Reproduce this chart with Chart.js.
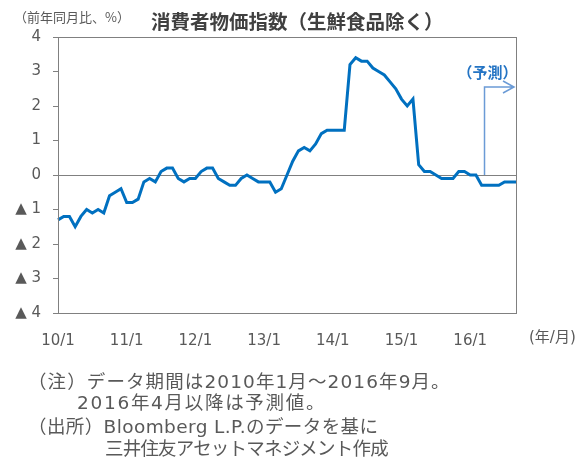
<!DOCTYPE html>
<html>
<head>
<meta charset="utf-8">
<script src="https://cdn.jsdelivr.net/npm/chart.js@4"></script>
<style>
  body { margin: 0; background: #fff; }
  #wrap { position: relative; width: 587px; height: 467px; font-family: "DejaVu Sans", "Noto Sans CJK JP", sans-serif; color: #595959; }
  canvas { position: absolute; left: 0; top: 0; }
  .txt { position: absolute; white-space: nowrap; }
  #title { left: 151px; top: 6px; font-size: 19.5px; font-weight: bold; color: #404040; font-family: "Noto Sans CJK JP", sans-serif; }
  #unit { left: 14px; top: 7px; font-size: 13px; font-family: "Noto Sans CJK JP", sans-serif; }
  #xunit { left: 529px; top: 325px; font-size: 15px; }
  .note { font-size: 18.5px; line-height: 22px; }
</style>
</head>
<body>
<div id="wrap">
  <canvas id="chart" width="587" height="467"></canvas>
  <div class="txt" id="unit">（前年同月比、%）</div>
  <div class="txt" id="title">消費者物価指数（生鮮食品除く）</div>
  <div class="txt" id="xunit">(年/月)</div>
  <div class="txt note" style="left:28px; top:371px; letter-spacing:1.1px;">（注）データ期間は2010年1月～2016年9月。</div>
  <div class="txt note" style="left:77px; top:392px; letter-spacing:1.7px;">2016年4月以降は予測値。</div>
  <div class="txt note" style="left:28px; top:416px; letter-spacing:0.4px;">（出所）Bloomberg L.P.のデータを基に</div>
  <div class="txt note" style="left:105px; top:438px; letter-spacing:-0.8px;">三井住友アセットマネジメント作成</div>
</div>
<script>
// monthly labels 2010/1 .. 2016/9
const months = [];
for (let y = 2010; y <= 2016; y++) {
    for (let m = 1; m <= 12; m++) {
        if (y === 2016 && m > 9) break;
        months.push(y + '/' + m);
    }
}

// core CPI, y/y %
const cpi2010 = [-1.3, -1.2, -1.2, -1.5, -1.2, -1.0, -1.1, -1.0, -1.1, -0.6, -0.5, -0.4];
const cpi2011 = [-0.8, -0.8, -0.7, -0.2, -0.1, -0.2, 0.1, 0.2, 0.2, -0.1, -0.2, -0.1];
const cpi2012 = [-0.1, 0.1, 0.2, 0.2, -0.1, -0.2, -0.3, -0.3, -0.1, 0.0, -0.1, -0.2];
const cpi2013 = [-0.2, -0.2, -0.5, -0.4, 0.0, 0.4, 0.7, 0.8, 0.7, 0.9, 1.2, 1.3];
const cpi2014 = [1.3, 1.3, 1.3, 3.2, 3.4, 3.3, 3.3, 3.1, 3.0, 2.9, 2.7, 2.5];
const cpi2015 = [2.2, 2.0, 2.2, 0.3, 0.1, 0.1, 0.0, -0.1, -0.1, -0.1, 0.1, 0.1];
const cpi2016 = [0.0, 0.0, -0.3, -0.3, -0.3, -0.3, -0.2, -0.2, -0.2];
const cpi = [].concat(cpi2010, cpi2011, cpi2012, cpi2013, cpi2014, cpi2015, cpi2016);

const forecastFrom = '2016/4';
const forecastLabel = '（予測）';
const arrowLevel = 2.55;

// plot frame + forecast arrow
const framePlugin = {
    id: 'frame',
    afterDraw(chart) {
        const { ctx, chartArea: a, scales: { x, y } } = chart;
        ctx.save();
        ctx.strokeStyle = '#808080';
        ctx.lineWidth = 1;
        ctx.strokeRect(Math.round(a.left) + 0.5, Math.round(a.top) + 0.5,
            Math.round(a.right - a.left), Math.round(a.bottom - a.top));

        const i = months.indexOf(forecastFrom);
        const ax = (x.getPixelForValue(i - 1) + x.getPixelForValue(i)) / 2;
        const ay = y.getPixelForValue(arrowLevel);
        const y0 = y.getPixelForValue(0);
        ctx.strokeStyle = '#6B9BD6';
        ctx.lineWidth = 1.5;
        ctx.beginPath();
        ctx.moveTo(ax, y0);
        ctx.lineTo(ax, ay);
        ctx.lineTo(a.right - 2, ay);
        ctx.moveTo(a.right - 13, ay - 6);
        ctx.lineTo(a.right - 2, ay);
        ctx.lineTo(a.right - 13, ay + 6);
        ctx.stroke();

        ctx.fillStyle = '#2474C4';
        ctx.font = 'bold 15px "Noto Sans CJK JP"';
        ctx.textAlign = 'center';
        ctx.textBaseline = 'middle';
        ctx.fillText(forecastLabel, ax + 3, ay - 15);
        ctx.restore();
    }
};

new Chart(document.getElementById('chart'), {
    type: 'line',
    data: {
        labels: months,
        datasets: [{
            data: cpi,
            borderColor: '#0070C0',
            borderWidth: 3,
            pointRadius: 0,
            tension: 0,
            fill: false
        }]
    },
    options: {
        responsive: false,
        animation: false,
        layout: { padding: { top: 37, right: 71, bottom: 114, left: 0 } },
        plugins: { legend: { display: false }, tooltip: { enabled: false } },
        scales: {
            x: {
                offset: false,
                grid: { display: false },
                border: { display: false },
                afterFit: (s) => { s.height = 40; },
                ticks: {
                    autoSkip: false,
                    maxRotation: 0,
                    padding: 11,
                    color: '#595959',
                    font: { size: 15, family: '"DejaVu Sans"' },
                    callback: function (v) {
                        const [yy, mm] = months[v].split('/');
                        return mm === '1' ? yy.slice(2) + '/1' : '';
                    }
                }
            },
            y: {
                min: -4,
                max: 4,
                afterFit: (s) => { s.width = 58; },
                border: { display: false },
                grid: {
                    color: (c) => c.tick && c.tick.value === 0 ? '#808080' : 'rgba(0,0,0,0)',
                    lineWidth: 1,
                    tickColor: '#808080',
                    tickLength: 5
                },
                ticks: {
                    stepSize: 1,
                    padding: 12,
                    color: '#595959',
                    font: { size: 15, family: '"DejaVu Sans"' },
                    callback: (v) => v < 0 ? '▲ ' + Math.abs(v) : String(v)
                }
            }
        }
    },
    plugins: [framePlugin]
});
</script>
</body>
</html>
